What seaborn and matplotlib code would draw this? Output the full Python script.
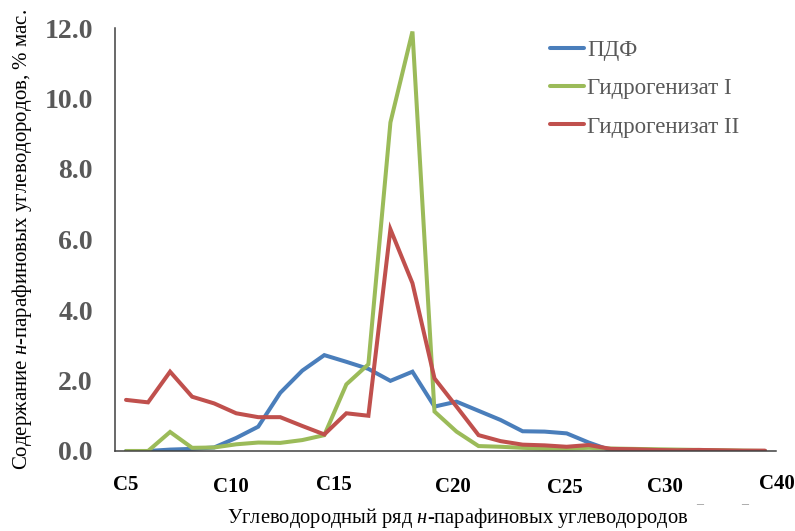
import matplotlib
matplotlib.use("Agg")
import matplotlib.pyplot as plt
from matplotlib.lines import Line2D
import numpy as np
import pandas as pd
import seaborn as sns

# Carbon-number fractions (one point per homologue) and their contents, % mass
categories = [f"C{n}" for n in range(5, 35)]
pdf_vals = [0.00, 0.00, 0.04, 0.06, 0.10, 0.37, 0.69, 1.65, 2.28, 2.72,
            2.53, 2.33, 1.99, 2.25, 1.26, 1.40, 1.14, 0.88, 0.56, 0.55,
            0.50, 0.24, 0.02, 0.01, 0.01, 0.00, 0.00, 0.00, 0.00, 0.00]
hydro1_vals = [0.00, 0.00, 0.54, 0.09, 0.10, 0.19, 0.24, 0.23, 0.31, 0.45,
               1.89, 2.46, 9.32, 11.90, 1.12, 0.55, 0.14, 0.12, 0.09, 0.07,
               0.07, 0.09, 0.07, 0.06, 0.05, 0.04, 0.03, 0.02, 0.01, 0.00]
hydro2_vals = [1.45, 1.38, 2.25, 1.54, 1.35, 1.07, 0.96, 0.96, 0.71, 0.47,
               1.07, 1.00, 6.29, 4.76, 2.06, 1.26, 0.45, 0.28, 0.18, 0.16,
               0.12, 0.17, 0.06, 0.05, 0.03, 0.02, 0.03, 0.02, 0.01, 0.01]
series_names = ["ПДФ", "Гидрогенизат I", "Гидрогенизат II"]
series_colors = ["#4A7EBB", "#9BBB59", "#C0504D"]

# Axis captions under the category axis
axis_labels = ["C5", "C10", "C15", "C20", "C25", "C30", "C40"]
axis_label_x = [0.0, 4.77, 9.45, 14.84, 19.91, 24.45, 29.55]
axis_label_y = [-0.080, -0.086, -0.080, -0.086, -0.088, -0.084, -0.078]

y_ticks = [0, 2, 4, 6, 8, 10, 12]

sns.set_theme(style="white")
plt.rcParams["font.family"] = ["Liberation Serif", "DejaVu Serif"]
plt.rcParams["mathtext.fontset"] = "custom"
plt.rcParams["mathtext.rm"] = "Liberation Serif"
plt.rcParams["mathtext.it"] = "Liberation Serif:italic"

pos = np.arange(len(categories))
df = pd.concat([
    pd.DataFrame({"pos": pos, "value": vals, "series": name})
    for name, vals in zip(series_names, [pdf_vals, hydro1_vals, hydro2_vals])
])

fig = plt.figure(figsize=(7.95, 5.31), dpi=100)
ax = fig.add_axes([115 / 795, 80 / 531, 661 / 795, 423 / 531])

sns.lineplot(data=df, x="pos", y="value", hue="series", hue_order=series_names,
             palette=series_colors, linewidth=2.9, legend=False, ax=ax,
             solid_joinstyle="miter")

ax.set_xlim(-0.5, len(categories) - 0.5)
ax.set_ylim(0, 12)
ax.set_xticks(np.arange(-0.5, len(categories), 5))
ax.set_xticklabels([])
ax.set_yticks(y_ticks)
ax.set_yticklabels([f"{v:.1f}" for v in y_ticks], fontsize=20,
                   fontweight="bold", color="#595959")
ax.tick_params(axis="both", direction="in", length=6.5, width=1.1,
               color="#404040")
ax.tick_params(axis="y", pad=16)

for side in ["top", "right"]:
    ax.spines[side].set_visible(False)
for side in ["left", "bottom"]:
    ax.spines[side].set_color("#404040")
    ax.spines[side].set_linewidth(1.1)

ax.set_xlabel("")
ax.set_ylabel("")

for lab, lx, ly in zip(axis_labels, axis_label_x, axis_label_y):
    ax.text(lx, ly, lab, transform=ax.get_xaxis_transform(), ha="center",
            va="center", fontsize=15, fontweight="bold", color="black")

fig.text(458 / 795, 1 - 518 / 531,
         "Углеводородный ряд $\\mathit{н}$-парафиновых углеводородов",
         ha="center", va="center", fontsize=14.8, color="black")
fig.text(22 / 795, 1 - 240 / 531,
         "Содержание $\\mathit{н}$-парафиновых углеводородов, % мас.",
         ha="center", va="center", rotation=90, fontsize=15, color="black")

# small stray marks to the right of the axis caption
for mx in [700, 745]:
    fig.text(mx / 795, 1 - 512 / 531, "\u00af", ha="center", va="center",
             fontsize=10, color="#8c8c8c")

handles = [Line2D([], [], color=c, linewidth=2.9) for c in series_colors]
leg = fig.legend(handles, series_names, loc="upper left",
                 bbox_to_anchor=(550 / 795, 1 - 40 / 531), frameon=False,
                 fontsize=16.5, handlelength=1.5, handletextpad=0.12,
                 labelspacing=0.75, borderpad=0, borderaxespad=0)
for t in leg.get_texts():
    t.set_color("#595959")

fig.savefig("out.png", dpi=100)
